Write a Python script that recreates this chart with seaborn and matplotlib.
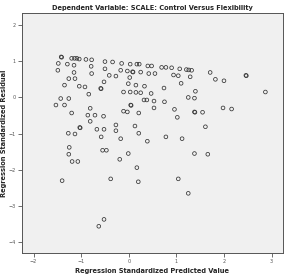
import pandas as pd
import matplotlib.pyplot as plt
import seaborn as sns

# Valores (predicho estandarizado, residuo estandarizado)
predicted = [
    -1.42, -1.41, -1.20, -1.14, -1.09, -1.04, -0.90, -0.78, -1.48, -1.29,
    -1.15, -0.79, -0.50, -0.34, -0.15, 0.03, 0.17, 0.22, 0.40, 0.48,
    0.69, 0.78, 0.90, 1.07, 1.21, 1.26, 1.32, -1.49, -1.15, -0.78,
    -0.50, -0.17, -0.03, 0.08, 0.09, 0.25, 0.42, 0.55, -0.41, -0.27,
    0.02, 0.94, 1.04, 1.29, 1.71, 1.82, 2.00, 2.46, 2.47, -1.26,
    -1.13, -0.52, 1.10, -1.35, -1.04, -0.92, -0.01, 0.15, 0.33, 0.74,
    -0.59, -0.58, -0.11, 0.03, 0.15, 0.25, 0.47, 1.40, 2.87, -0.84,
    -1.43, -1.26, 0.32, 0.38, 0.53, 0.75, 1.25, 1.38, -1.53, -1.35,
    0.04, 0.05, 0.53, -0.81, 0.96, 1.38, 1.39, 1.55, 1.98, 2.16,
    -0.11, -0.03, -1.20, 0.21, -0.86, -0.71, -0.53, 1.02, -0.81, -0.27,
    0.13, 1.61, -1.03, -1.02, -0.67, -0.52, -0.27, 0.21, -1.27, -1.13,
    -0.58, 0.78, -0.17, 1.12, 0.39, -1.25, -1.26, -1.19, -1.07, -0.55,
    -0.47, -0.01, -0.19, 0.17, -0.38, 0.20, 1.38, 1.66, 1.04, 1.25,
    -1.40, -0.52, -0.63,
]
residual = [
    1.12, 1.11, 1.08, 1.08, 1.08, 1.06, 1.05, 1.04, 0.94, 0.92,
    0.89, 0.86, 0.99, 0.98, 0.94, 0.92, 0.92, 0.92, 0.87, 0.87,
    0.83, 0.83, 0.82, 0.79, 0.77, 0.76, 0.75, 0.75, 0.69, 0.66,
    0.79, 0.75, 0.73, 0.71, 0.70, 0.70, 0.66, 0.66, 0.61, 0.59,
    0.55, 0.62, 0.60, 0.57, 0.69, 0.50, 0.46, 0.61, 0.60, 0.52,
    0.52, 0.43, 0.39, 0.34, 0.31, 0.29, 0.38, 0.34, 0.31, 0.26,
    0.25, 0.24, 0.15, 0.15, 0.14, 0.13, 0.11, 0.17, 0.15, 0.09,
    -0.03, -0.03, -0.07, -0.07, -0.10, -0.12, 0.00, -0.02, -0.21, -0.21,
    -0.21, -0.22, -0.29, -0.30, -0.33, -0.40, -0.41, -0.41, -0.29, -0.32,
    -0.38, -0.40, -0.43, -0.43, -0.49, -0.49, -0.52, -0.55, -0.66, -0.76,
    -0.79, -0.81, -0.83, -0.84, -0.88, -0.88, -0.92, -0.99, -0.99, -1.01,
    -1.09, -1.09, -1.14, -1.14, -1.21, -1.38, -1.57, -1.77, -1.77, -1.46,
    -1.46, -1.55, -1.71, -1.94, -2.25, -2.33, -1.55, -1.57, -2.25, -2.65,
    -2.30, -3.37, -3.56,
]

x_ticks = [-2, -1, 0, 1, 2, 3]
y_ticks = [2, 1, 0, -1, -2, -3, -4]

titulo = 'Dependent Variable: SCALE: Control Versus Flexibility'
etiqueta_x = 'Regression Standardized Predicted Value'
etiqueta_y = 'Regression Standardized Residual'

df = pd.DataFrame({'pred': predicted, 'res': residual})

sns.set_style('ticks')
plt.rcParams['font.family'] = ['DejaVu Sans']
plt.rcParams['font.stretch'] = 'condensed'

fig = plt.figure(figsize=(2.85, 2.79), dpi=100)
ax = fig.add_axes([0.076, 0.093, 0.917, 0.860])
ax.set_facecolor('#f0f0f0')

sns.scatterplot(data=df, x='pred', y='res', ax=ax, marker='o', s=7,
                facecolor='none', edgecolor='#333333', linewidth=0.55)

ax.set_xlim(-2.25, 3.24)
ax.set_ylim(-4.30, 2.33)
ax.set_xticks(x_ticks)
ax.set_yticks(y_ticks)
ax.tick_params(axis='both', labelsize=4, colors='#555555', length=3,
               width=0.6, direction='out', pad=1.5)
for s in ax.spines.values():
    s.set_color('#555555')
    s.set_linewidth(0.7)

ax.set_title(titulo, fontsize=5.3, fontweight='bold', pad=2.5)
ax.set_xlabel(etiqueta_x, fontsize=5.3, fontweight='bold', labelpad=3)
ax.set_ylabel(etiqueta_y, fontsize=5.3, fontweight='bold', labelpad=0.5)

fig.savefig('out.png', dpi=100, facecolor='white')
plt.close(fig)
